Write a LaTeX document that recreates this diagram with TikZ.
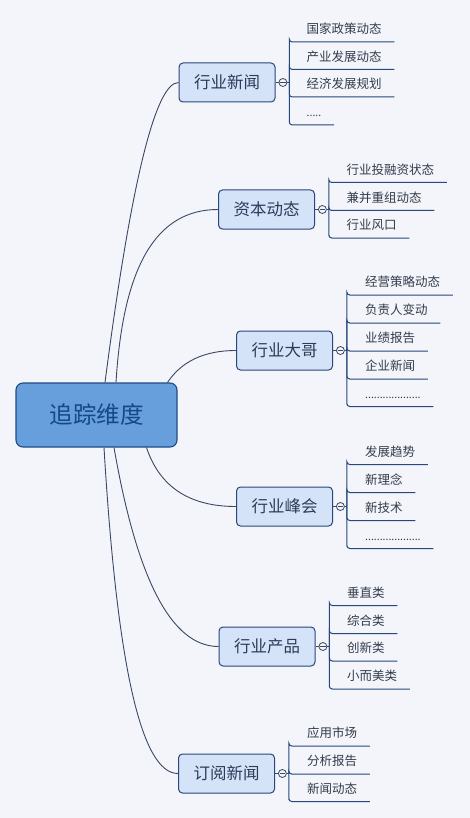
\documentclass[tikz,border=0pt]{standalone}
\usepackage{fontspec}
\newfontfamily\cjk{Noto Sans CJK SC}
\usetikzlibrary{positioning}
\definecolor{paper}{HTML}{F3F5FA}
\definecolor{rootfill}{HTML}{669FDC}
\definecolor{rootedge}{HTML}{1E4C88}
\definecolor{rootink}{HTML}{164786}
\definecolor{topicfill}{HTML}{D5E3F9}
\definecolor{topicedge}{HTML}{27487C}
\definecolor{topicink}{HTML}{2C3C58}
\definecolor{wireink}{HTML}{3A4864}
\definecolor{leafink}{HTML}{333C4C}

\tikzset{
  rootbox/.style={draw=rootedge, fill=rootfill, rounded corners=7pt, line width=1.1pt,
    minimum width=161pt, minimum height=64pt, inner sep=0pt, text=rootink,
    font=\cjk\fontsize{23.5}{28}\selectfont},
  topicbox/.style={draw=topicedge, fill=topicfill, rounded corners=4pt, line width=1pt,
    minimum width=96pt, minimum height=39pt, inner sep=0pt, text=topicink,
    font=\cjk\fontsize{16.5}{20}\selectfont},
  knob/.style={circle, draw=wireink, fill=paper, line width=0.8pt, minimum size=8pt, inner sep=0pt,
    path picture={\draw[wireink, line width=0.8pt] ([xshift=-2.6pt]path picture bounding box.center)
      -- ([xshift=2.6pt]path picture bounding box.center);}},
  leafnote/.style={anchor=south west, inner xsep=12.5pt, inner ysep=0pt, text height=10pt,
    text depth=8pt, text=leafink, font=\cjk\fontsize{12.5}{15}\selectfont},
  dotnote/.style={leafnote, font=\cjk\fontsize{10.5}{15}\selectfont},
  wire/.style={draw=wireink, line width=0.9pt},
  underl/.style={draw=topicedge, line width=1pt, rounded corners=3pt}
}

\begin{document}
\begin{tikzpicture}[x=1pt, y=-1pt]
    \useasboundingbox[fill=paper] (0,0) rectangle (470,818);

    \node[rootbox] (root) at (96.5,415) {追踪维度};

    \node[topicbox] (b1) at (227,82.5) {行业新闻};
    \node[topicbox] (b2) at (266.5,209.5) {资本动态};
    \node[topicbox] (b3) at (284.5,350.5) {行业大哥};
    \node[topicbox] (b4) at (284.5,506.5) {行业峰会};
    \node[topicbox] (b5) at (267,646.5) {行业产品};
    \node[topicbox] (b6) at (226.5,773.5) {订阅新闻};

    % root to topics
    \draw[wire] ([xshift=8.5pt]root.north) .. controls +(26,-200) and +(-23,0) .. (b1.west);
    \draw[wire] ([xshift=19.5pt]root.north) .. controls +(7,-116) and +(-62,0) .. (b2.west);
    \draw[wire] ([xshift=71pt]root.north) .. controls +(14,-21) and +(-32,0) .. (b3.west);
    \draw[wire] ([xshift=50pt]root.south) .. controls +(13,39) and +(-47,0) .. (b4.west);
    \draw[wire] ([xshift=17.5pt]root.south) .. controls +(23,132) and +(-47,0) .. (b5.west);
    \draw[wire] ([xshift=7.5pt]root.south) .. controls +(13,217) and +(-37,0) .. (b6.west);

    % collapse knobs and hubs
    \foreach \b in {1,...,6}{
        \node[knob, right=3pt of b\b] (k\b) {};
        \coordinate[right=2pt of k\b] (h\b);
        \draw[wire] (b\b) -- (k\b);
        \draw[underl] (k\b) -- (h\b);
    }

    % leaves
    \node[leafnote] (n1a) at (294,42) {国家政策动态};
    \node[leafnote] (n1b) at (294,69.5) {产业发展动态};
    \node[leafnote] (n1c) at (294,97) {经济发展规划};
    \node[dotnote] (n1d) at (294,125) {.....};

    \node[leafnote] (n2a) at (334,182.5) {行业投融资状态};
    \node[leafnote] (n2b) at (334,210.5) {兼并重组动态};
    \node[leafnote] (n2c) at (334,238) {行业风口};

    \node[leafnote] (n3a) at (352.5,295) {经营策略动态};
    \node[leafnote] (n3b) at (352.5,323) {负责人变动};
    \node[leafnote] (n3c) at (352.5,351) {业绩报告};
    \node[leafnote] (n3d) at (352.5,379) {企业新闻};
    \node[dotnote] (n3e) at (352.5,406.5) {...................};

    \node[leafnote] (n4a) at (352.5,464.5) {发展趋势};
    \node[leafnote] (n4b) at (352.5,492.5) {新理念};
    \node[leafnote] (n4c) at (352.5,520.5) {新技术};
    \node[dotnote] (n4d) at (352.5,548.5) {...................};

    \node[leafnote] (n5a) at (334.5,605.5) {垂直类};
    \node[leafnote] (n5b) at (334.5,633.5) {综合类};
    \node[leafnote] (n5c) at (334.5,661) {创新类};
    \node[leafnote] (n5d) at (334.5,689) {小而美类};

    \node[leafnote] (n6a) at (294.5,746) {应用市场};
    \node[leafnote] (n6b) at (294.5,774) {分析报告};
    \node[leafnote] (n6c) at (294.5,801.5) {新闻动态};

    % underlines from hubs
    \foreach \n in {n1a,n1b,n1c,n1d}
        \draw[underl] (h1) |- (\n.south west -| h1) -- (\n.south east);
    \foreach \n in {n2a,n2b,n2c}
        \draw[underl] (h2) |- (\n.south west -| h2) -- (\n.south east);
    \foreach \n in {n3a,n3b,n3c,n3d,n3e}
        \draw[underl] (h3) |- (\n.south west -| h3) -- (\n.south east);
    \foreach \n in {n4a,n4b,n4c,n4d}
        \draw[underl] (h4) |- (\n.south west -| h4) -- (\n.south east);
    \foreach \n in {n5a,n5b,n5c,n5d}
        \draw[underl] (h5) |- (\n.south west -| h5) -- (\n.south east);
    \foreach \n in {n6a,n6b,n6c}
        \draw[underl] (h6) |- (\n.south west -| h6) -- (\n.south east);

\end{tikzpicture}
\end{document}
